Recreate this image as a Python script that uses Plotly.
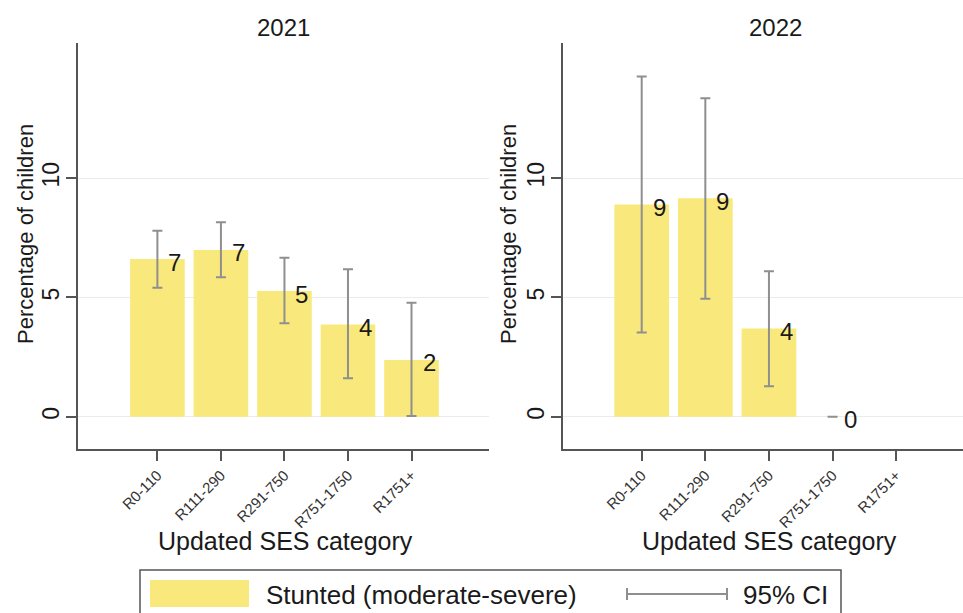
import plotly.graph_objects as go

# SES categories and stunting estimates (% of children) with 95% CI bounds
categories = ["R0-110", "R111-290", "R291-750", "R751-1750", "R1751+"]

pct_2021 = [6.61, 6.99, 5.27, 3.87, 2.38]
lo_2021 = [5.41, 5.85, 3.92, 1.61, 0.03]
hi_2021 = [7.80, 8.15, 6.67, 6.18, 4.78]

pct_2022 = [8.90, 9.16, 3.70, 0.0, None]
lo_2022 = [3.53, 4.95, 1.28, 0.0, None]
hi_2022 = [14.27, 13.35, 6.10, 0.0, None]

panel_years = ["2021", "2022"]
y_ticks = [0, 5, 10]

W, H = 963, 613
FONT = "Liberation Sans, Arial, Helvetica, sans-serif"
BAR = "#F9E97C"
CI = "#8F8F8F"
AXIS = "#555555"
GRID = "#EBEBEB"
TXT = "#1a1a1a"


def px(x):
    return x / W


def py(y):
    return 1 - y / H


def err(vals, lo, hi):
    plus, minus = [], []
    for v, l, h in zip(vals, lo, hi):
        if v is None:
            plus.append(None)
            minus.append(None)
        else:
            plus.append(h - v)
            minus.append(v - l)
    return plus, minus


fig = go.Figure()

panels = [
    ("x", "y", pct_2021, lo_2021, hi_2021),
    ("x2", "y2", pct_2022, lo_2022, hi_2022),
]

annotations = []
for xa, ya, vals, lo, hi in panels:
    plus, minus = err(vals, lo, hi)
    fig.add_trace(go.Bar(
        x=categories, y=vals, xaxis=xa, yaxis=ya,
        width=0.86, marker=dict(color=BAR, line=dict(width=0)),
        error_y=dict(type="data", symmetric=False, array=plus, arrayminus=minus,
                     color=CI, thickness=2, width=5),
        showlegend=False, hoverinfo="skip",
    ))
    # value labels next to each bar top
    for c, v in zip(categories, vals):
        if v is None:
            continue
        annotations.append(dict(
            x=c, y=v, xref=xa, yref=ya, text=f"{round(v):d}",
            showarrow=False, xanchor="left", yanchor="middle",
            xshift=9, yshift=-3, font=dict(family=FONT, size=24, color=TXT),
        ))

y_range = [-1.355, 15.67]
y_dom = [py(449), py(43)]

axis_common = dict(
    showline=True, linecolor=AXIS, linewidth=1.5,
    ticks="outside", ticklen=10, tickwidth=1.5, tickcolor=AXIS,
)

xaxis_common = dict(
    axis_common, type="category", categoryorder="array", categoryarray=categories,
    tickangle=-45, tickfont=dict(family=FONT, size=15, color="#333333"),
    showgrid=False, zeroline=False,
)
yaxis_common = dict(
    axis_common, range=y_range, tickvals=y_ticks, ticktext=[str(t) for t in y_ticks],
    tickangle=-90, tickfont=dict(family=FONT, size=23, color=TXT),
    ticklabelstandoff=-2,
    showgrid=True, gridcolor=GRID, gridwidth=1, zeroline=False,
)

fig.update_layout(
    width=W, height=H, margin=dict(l=0, r=0, t=0, b=0),
    paper_bgcolor="white", plot_bgcolor="white",
    bargap=0.14,
    xaxis=dict(xaxis_common, domain=[px(78), px(489)], range=[-1.25, 5.22], anchor="y"),
    yaxis=dict(yaxis_common, domain=y_dom, anchor="x"),
    xaxis2=dict(xaxis_common, domain=[px(563), 1.0], range=[-1.237, 5.05], anchor="y2"),
    yaxis2=dict(yaxis_common, domain=y_dom, anchor="x2"),
)

# panel titles and axis titles
title_font = dict(family=FONT, size=24, color=TXT)
for x_title, year, x_ytitle, x_xtitle in [(283, panel_years[0], 25, 285),
                                           (775, panel_years[1], 508, 769)]:
    annotations.append(dict(x=px(x_title), y=py(27), xref="paper", yref="paper",
                            text=year, showarrow=False, font=title_font,
                            xanchor="center", yanchor="middle"))
    annotations.append(dict(x=px(x_ytitle), y=py(234), xref="paper", yref="paper",
                            text="Percentage of children", textangle=-90,
                            showarrow=False, font=dict(family=FONT, size=22, color=TXT),
                            xanchor="center", yanchor="middle"))
    annotations.append(dict(x=px(x_xtitle), y=py(541), xref="paper", yref="paper",
                            text="Updated SES category", showarrow=False,
                            font=dict(family=FONT, size=25, color=TXT),
                            xanchor="center", yanchor="middle"))

# legend
legend_font = dict(family=FONT, size=26, color=TXT)
annotations.append(dict(x=px(264), y=py(595), xref="paper", yref="paper",
                        text="Stunted (moderate-severe)", showarrow=False,
                        font=legend_font, xanchor="left", yanchor="middle"))
annotations.append(dict(x=px(741), y=py(595), xref="paper", yref="paper",
                        text="95% CI", showarrow=False,
                        font=legend_font, xanchor="left", yanchor="middle"))

shapes = [
    dict(type="rect", xref="paper", yref="paper",
         x0=px(140), x1=px(841), y0=py(620), y1=py(570),
         line=dict(color=AXIS, width=1.5), fillcolor="rgba(0,0,0,0)"),
    dict(type="rect", xref="paper", yref="paper",
         x0=px(150), x1=px(249), y0=py(607), y1=py(580),
         line=dict(width=0), fillcolor=BAR),
    dict(type="line", xref="paper", yref="paper",
         x0=px(627), x1=px(727), y0=py(594), y1=py(594),
         line=dict(color=CI, width=2)),
    dict(type="line", xref="paper", yref="paper",
         x0=px(627), x1=px(627), y0=py(588), y1=py(600),
         line=dict(color=CI, width=2)),
    dict(type="line", xref="paper", yref="paper",
         x0=px(727), x1=px(727), y0=py(588), y1=py(600),
         line=dict(color=CI, width=2)),
]

fig.update_layout(annotations=annotations, shapes=shapes)

fig.write_html("out.html")
